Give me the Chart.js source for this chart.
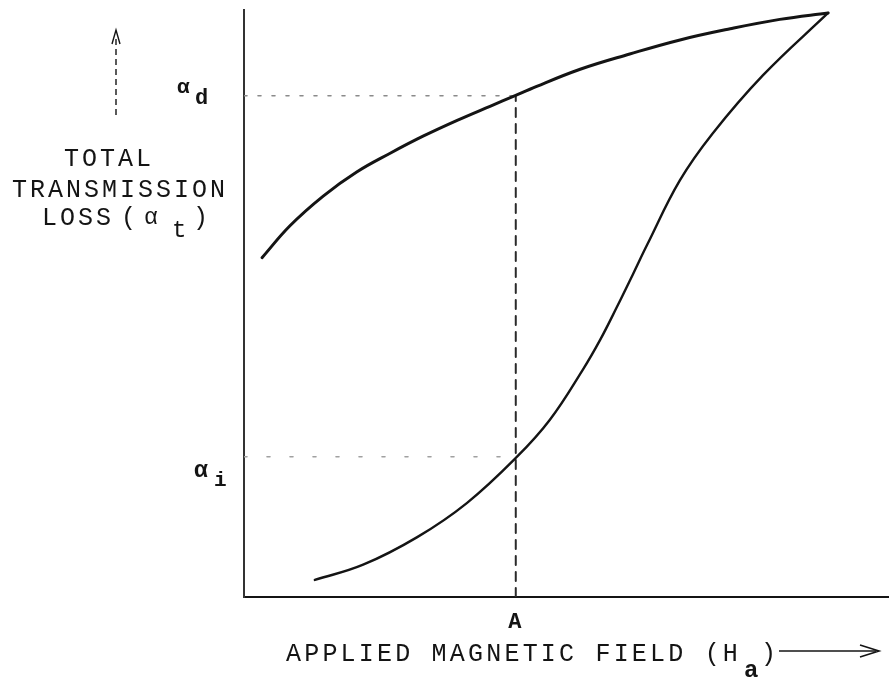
<!DOCTYPE html>
<html>
<head>
<meta charset="utf-8">
<script src="https://cdn.jsdelivr.net/npm/chart.js@4"></script>
<style>
  html,body{margin:0;padding:0;background:#fff;}
  #wrap{width:889px;height:679px;position:relative;}
</style>
</head>
<body>
<div id="wrap"><canvas id="lossChart"></canvas></div>
<script>
/* DATA (arbitrary units 0..100) */
const fieldUpper = [2.8, 7.1, 12.3, 17.5, 22.7, 27.8, 33.1, 38.2, 42.1, 44.4, 52.2, 59.9, 67.7, 75.5, 83.2, 90.7];
const lossUpper  = [57.8, 63.2, 68.3, 72.4, 75.6, 78.5, 81.2, 83.6, 85.4, 86.5, 89.9, 92.5, 94.9, 96.8, 98.4, 99.5];

const fieldLower = [11.0, 18.5, 26.9, 34.6, 42.4, 47.5, 52.6, 55.3, 57.9, 60.4, 62.6, 67.7, 72.8, 80.6, 90.7];
const lossLower  = [2.9, 5.5, 10.2, 16.0, 23.9, 30.2, 38.7, 43.8, 49.4, 55.0, 60.0, 71.0, 79.0, 88.9, 99.5];

const A_FIELD = 42.2;
const ALPHA_D = 85.4;
const ALPHA_I = 23.9;

const yLabel = ["TOTAL", "TRANSMISSION", "LOSS"];
const xLabel = "APPLIED MAGNETIC FIELD (H";

const INK = "#141414";
const MONO = '"Liberation Mono", "DejaVu Sans Mono", monospace';

function pts(xs, ys){
  return xs.map((v,i)=>({x:v, y:ys[i]}));
}

/* text + arrows drawn on top */
const inkPlugin = {
  id: "ink",
  afterDraw(chart){
    const ctx = chart.ctx;
    const sx = chart.scales.x, sy = chart.scales.y;
    const xA = sx.getPixelForValue(A_FIELD);
    const yD = sy.getPixelForValue(ALPHA_D);
    const yI = sy.getPixelForValue(ALPHA_I);
    const bottom = chart.chartArea.bottom;

    ctx.save();
    ctx.fillStyle = INK;
    ctx.strokeStyle = INK;
    ctx.textBaseline = "alphabetic";

    // y title
    ctx.font = "25px " + MONO;
    ctx.letterSpacing = "3px";
    ctx.textAlign = "left";
    ctx.fillText(yLabel[0], 64, 166);
    ctx.fillText(yLabel[1], 12, 197);
    ctx.fillText(yLabel[2], 42, 225);
    ctx.letterSpacing = "0px";
    ctx.fillText("(", 121, 225);
    ctx.font = "23px " + MONO;
    ctx.fillText("α", 144, 224);
    ctx.font = "24px " + MONO;
    ctx.fillText("t", 172, 237);
    ctx.font = "25px " + MONO;
    ctx.fillText(")", 193, 225);

    // up arrow
    ctx.lineWidth = 1.4;
    ctx.setLineDash([6, 4]);
    ctx.beginPath();
    ctx.moveTo(116, 115);
    ctx.lineTo(116, 36);
    ctx.stroke();
    ctx.setLineDash([]);
    ctx.beginPath();
    ctx.moveTo(112, 44);
    ctx.lineTo(116, 30);
    ctx.lineTo(120, 44);
    ctx.stroke();

    // alpha_d, alpha_i
    ctx.font = "bold 21px " + MONO;
    ctx.fillText("α", 177, yD - 3);
    ctx.font = "bold 22px " + MONO;
    ctx.fillText("d", 195, yD + 8);
    ctx.font = "bold 23px " + MONO;
    ctx.fillText("α", 194, yI + 20);
    ctx.font = "bold 21px " + MONO;
    ctx.fillText("i", 214, yI + 29);

    // A
    ctx.font = "bold 22px " + MONO;
    ctx.textAlign = "center";
    ctx.fillText("A", xA - 1, bottom + 31);

    // x title
    ctx.textAlign = "left";
    ctx.font = "25px " + MONO;
    ctx.letterSpacing = "3.2px";
    ctx.fillText(xLabel, 286, 661);
    ctx.letterSpacing = "0px";
    ctx.font = "bold 24px " + MONO;
    ctx.fillText("a", 744, 677);
    ctx.font = "25px " + MONO;
    ctx.fillText(")", 761, 661);

    // right arrow
    ctx.lineWidth = 1.6;
    ctx.beginPath();
    ctx.moveTo(779, 651);
    ctx.lineTo(876, 651);
    ctx.stroke();
    ctx.beginPath();
    ctx.moveTo(860, 645);
    ctx.lineTo(879, 651);
    ctx.lineTo(860, 657);
    ctx.stroke();
    ctx.restore();
  }
};

new Chart(document.getElementById("lossChart"), {
  type: "line",
  data: {
    datasets: [
      {
        data: pts(fieldUpper, lossUpper),
        borderColor: INK,
        borderWidth: 3,
        tension: 0.4,
        pointRadius: 0
      },
      {
        data: pts(fieldLower, lossLower),
        borderColor: INK,
        borderWidth: 2.4,
        tension: 0.4,
        pointRadius: 0
      },
      {
        data: [{x:0, y:ALPHA_D}, {x:A_FIELD, y:ALPHA_D}],
        borderColor: "#8a8a8a",
        borderWidth: 1.6,
        borderDash: [3, 11],
        pointRadius: 0
      },
      {
        data: [{x:A_FIELD, y:0}, {x:A_FIELD, y:ALPHA_D}],
        borderColor: "#2a2a2a",
        borderWidth: 2,
        borderDash: [9, 7],
        pointRadius: 0
      },
      {
        data: [{x:0, y:ALPHA_I}, {x:A_FIELD, y:ALPHA_I}],
        borderColor: "#a0a0a0",
        borderWidth: 1.6,
        borderDash: [3, 20],
        pointRadius: 0
      }
    ]
  },
  options: {
    responsive: true,
    maintainAspectRatio: false,
    animation: false,
    layout: { padding: { left: 236, right: 1, top: 10, bottom: 74 } },
    plugins: {
      legend: { display: false },
      tooltip: { enabled: false }
    },
    elements: { line: { borderCapStyle: "round" } },
    scales: {
      x: {
        type: "linear",
        min: 0,
        max: 100,
        grid: { display: false },
        ticks: { display: false },
        border: { display: true, color: INK, width: 2 }
      },
      y: {
        type: "linear",
        min: 0,
        max: 100,
        grid: { display: false },
        ticks: { display: false },
        border: { display: true, color: "#333", width: 2 }
      }
    }
  },
  plugins: [inkPlugin]
});
</script>
</body>
</html>
